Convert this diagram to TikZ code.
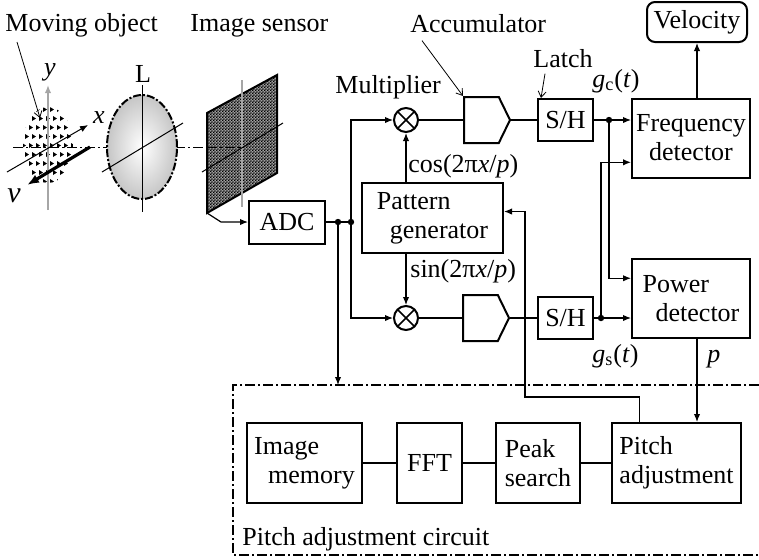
\documentclass[tikz,border=0pt]{standalone}
\usepackage{fontspec}
\setmainfont{Liberation Serif}
\usetikzlibrary{arrows.meta,shapes.symbols,patterns,calc}

% fine checker for the sensor face
\pgfdeclarepatternformonly{finecheck}{\pgfpointorigin}{\pgfqpoint{1.6pt}{1.6pt}}{\pgfqpoint{1.6pt}{1.6pt}}{%
  \pgfpathrectangle{\pgfpointorigin}{\pgfqpoint{0.8pt}{0.8pt}}%
  \pgfpathrectangle{\pgfqpoint{0.8pt}{0.8pt}}{\pgfqpoint{0.8pt}{0.8pt}}%
  \pgfusepath{fill}}

\tikzset{
  blk/.style={draw,line width=1pt,align=left,inner sep=2pt},
  mul/.style={draw,line width=1pt,circle,minimum size=12pt,inner sep=0pt,
    path picture={\draw[line width=0.8pt]
      (path picture bounding box.north west) -- (path picture bounding box.south east)
      (path picture bounding box.north east) -- (path picture bounding box.south west);}},
  acc/.style={draw,line width=1pt,signal,signal to=east,signal pointer angle=128,
    minimum width=23pt,minimum height=23pt,inner sep=0pt},
  dot/.style={circle,fill,inner sep=0pt,minimum size=3.2pt},
  sig/.style={line width=0.6pt},
  lbl/.style={inner sep=0pt},
  callout/.style={line width=0.4pt,-{Straight Barb[length=3pt,width=4pt]}},
  dashdot/.style={dash pattern=on 5pt off 1.5pt on 1pt off 1.5pt},
}

\begin{document}
\begin{tikzpicture}[x=0.5pt,y=-0.5pt,font=\fontsize{13}{14.5}\selectfont,
  >={Latex[length=4pt,width=3.2pt]}]
\useasboundingbox (0,0) rectangle (759,559);

% --- optics: object, lens, sensor
\begin{scope}
  \clip (48,145) ellipse [x radius=12.5pt,y radius=19pt];
  \foreach \i in {0,...,7}
    \foreach \j in {0,...,8}
      \fill ({22+\i*7+mod(\j,2)*3},{107+\j*9}) -- ++(0,5) -- ++(4,-2.5) -- cycle;
\end{scope}
\draw[gray!70,line width=0.8pt,->] (48,210) -- (48,85);
\node[lbl,anchor=base] (ylbl) at (50,75) {\textit{y}};
\draw[line width=0.5pt,->] (7,172) -- (88,125);
\node[lbl,anchor=base] (xlbl) at (99,123) {\textit{x}};
\draw[line width=1.6pt,-{Latex[length=6pt,width=4.5pt]}] (90,147) -- (27,185);
\node[lbl,anchor=base] (vlbl) at (14,202) {\fontsize{15}{15}\selectfont\textit{v}};

\draw[line width=0.5pt,dashdot] (13,147) -- (243,147);

\shade[inner color=white,outer color=gray!45] (142,147) ellipse [x radius=17.5pt,y radius=26pt];
\draw[line width=1pt,dash pattern=on 4pt off 1pt on 1pt off 1pt] (142,147) ellipse [x radius=17.5pt,y radius=26pt];
\draw[line width=0.5pt] (142,85) -- (142,212);
\draw[line width=0.5pt] (102,172) -- (183,123);
\node[lbl,anchor=base] (lenslbl) at (143,82) {L};

\draw[line width=1pt,fill=gray!75,postaction={pattern=finecheck}]
  (207,113) -- (277,75) -- (277,173) -- (207,213) -- cycle;
\coordinate (snsbl) at (207,213);
\draw[gray!70,line width=0.6pt] (242,80) -- (242,207);
\draw[line width=0.5pt] (202,172) -- (283,123);
\draw[line width=0.5pt,dashdot] (207,147) -- (243,147);

\node[lbl,anchor=base west] (molbl) at (5,31) {Moving object};
\node[lbl,anchor=base west] (islbl) at (190,31) {Image sensor};
\coordinate (objtop) at (40,118);
\draw[callout] ([xshift=6pt,yshift=-2.5pt]molbl.south west) -- (objtop);

% --- blocks
\node[blk,minimum width=38pt,minimum height=21.5pt] (adc) at (287,222) {ADC};
\node[blk,minimum width=70.5pt,minimum height=35pt] (pg) at (432.5,218) {Pattern\\\hspace*{6.5pt}generator};
\node[mul] (mulc) at (406,120) {};
\node[mul] (muls) at (406,318) {};
\node[acc,anchor=west] (accc) at (463,120) {};
\node[acc,anchor=west] (accs) at (462,318) {};
\node[blk,minimum width=27.5pt,minimum height=21pt] (shc) at (565.5,120) {S/H};
\node[blk,minimum width=27.5pt,minimum height=21pt] (shs) at (565.5,318) {S/H};
\node[blk,minimum width=59pt,minimum height=39.5pt] (fd) at (691,138) {Frequency\\\hspace*{6.5pt}detector};
\node[blk,minimum width=59pt,minimum height=39.5pt] (pd) at (691,298.5) {Power\\\hspace*{6.5pt}detector};
\node[blk,rounded corners=4pt,minimum width=50pt,minimum height=20pt] (vel) at (697,22) {Velocity};

\node[lbl,anchor=base west] (multlbl) at (335,93) {Multiplier};
\node[lbl,anchor=base west] (acclbl) at (410,32) {Accumulator};
\node[lbl,anchor=base west] (latchlbl) at (533,67) {Latch};
\draw[callout] ([xshift=6pt,yshift=-4pt]acclbl.south west) -- (accc.north west);
\draw[callout] ([xshift=6pt,yshift=-3pt]latchlbl.south west) -- ([xshift=2pt]shc.north west);

\node[lbl,anchor=base west] (coslbl) at (408,172) {cos(2π\textit{x}/\textit{p})};
\node[lbl,anchor=base west] (sinlbl) at (410,277) {sin(2π\textit{x}/\textit{p})};
\node[lbl,anchor=base west] (gclbl) at (592,87) {\textit{g}\textsubscript{c}(\textit{t})};
\node[lbl,anchor=base west] (gslbl) at (592,362) {\textit{g}\textsubscript{s}(\textit{t})};
\node[lbl,anchor=base west] (plbl) at (707,362) {\textit{p}};

\node[dot] (d1) at (338,222) {};
\node[dot] (d2) at (351,222) {};
\node[dot] (dc) at (609,120) {};
\node[dot] (ds) at (601,318) {};

% --- pitch adjustment circuit
\coordinate (boxtop) at (233,385);
\draw[sig,dashdot] (759,385) -- (boxtop) -- (233,555) -- (759,555);
\node[lbl,anchor=base west] (apclbl) at (242,545) {Pitch adjustment circuit};
\node[blk,minimum width=57.5pt,minimum height=40pt] (imem) at (304.5,463) {Image\\\hspace*{7pt}memory};
\node[blk,minimum width=32.5pt,minimum height=40pt] (fft) at (429.5,463) {FFT};
\node[blk,minimum width=42pt,minimum height=40pt] (peak) at (538,463) {Peak\\search};
\node[blk,minimum width=64.5pt,minimum height=40pt] (pitch) at (676.5,463) {Pitch\\adjustment};

% --- connections
\draw[sig,->] (snsbl) -- ++(14,9) -- (adc.west);
\draw[sig] (adc.east) -- (d2.center);
\draw[sig,->] (d2.center) |- (mulc.west);
\draw[sig,->] (d2.center) |- (muls.west);
\draw[sig,->] (d1.center) -- (d1.center |- boxtop);
\draw[sig,->] (pg.north -| mulc) -- (mulc.south);
\draw[sig,->] (pg.south -| muls) -- (muls.north);
\draw[sig] (mulc.east) -- (accc.west);
\draw[sig] (muls.east) -- (accs.west);
\draw[sig] (accc.east) -- (shc.west);
\draw[sig] (accs.east) -- (shs.west);
\draw[sig,->] (shc.east) -- (dc -| fd.west);
\draw[sig,->] (shs.east) -- (ds -| pd.west);
\draw[sig,->] (dc.center) |- ($(pd.north west)!.25!(pd.south west)$);
\draw[sig,->] (ds.center) |- ($(fd.north west)!.8!(fd.south west)$);
\draw[sig,->] (vel.south |- fd.north) -- (vel.south);
\draw[sig,->] (vel.south |- pd.south) -- (vel.south |- pitch.north);
\coordinate (fb) at ($(pitch.north west)!.22!(pitch.north east)$);
\draw[sig,->] (fb) -- ++(0,-25) -| ($(pg.north east)!.41!(pg.south east)+(21,0)$)
  -- ($(pg.north east)!.41!(pg.south east)$);
\draw[sig] (imem) -- (fft) -- (peak) -- (pitch);
\end{tikzpicture}
\end{document}
